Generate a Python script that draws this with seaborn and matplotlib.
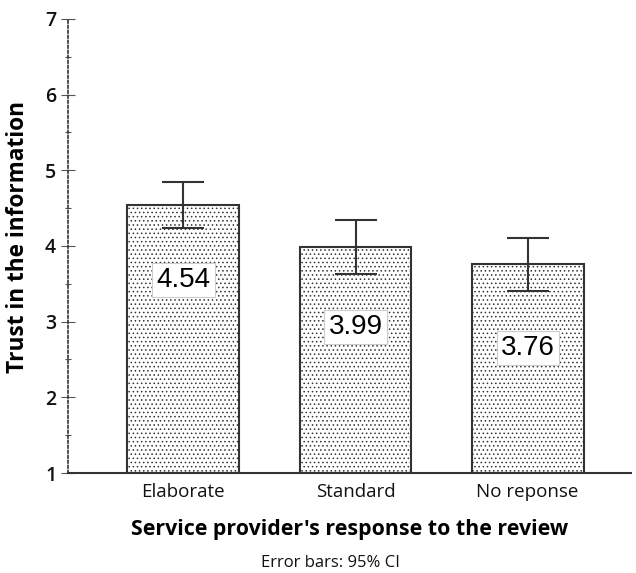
import numpy as np
import pandas as pd
import matplotlib
matplotlib.use("Agg")
import matplotlib.pyplot as plt
import seaborn as sns

# ── data ─────────────────────────────────────────────
conditions = ["Elaborate", "Standard", "No reponse"]
means = [4.54, 3.99, 3.76]
ci_low = [4.24, 3.63, 3.41]
ci_high = [4.85, 4.34, 4.11]
label_y = [3.55, 2.93, 2.65]   # where the value boxes sit

df = pd.DataFrame({"condition": conditions, "trust": means})

# ── style ────────────────────────────────────────────
sns.set_style("white")
plt.rcParams["font.family"] = ["Open Sans", "DejaVu Sans"]
plt.rcParams["hatch.color"] = "#b0b0b0"
plt.rcParams["hatch.linewidth"] = 0.6

fig = plt.figure(figsize=(6.36, 5.73), dpi=100)
ax = fig.add_axes([0.107, 0.1745, 0.885, 0.7925])

sns.barplot(data=df, x="condition", y="trust", ax=ax, errorbar=None,
            color="white", edgecolor="#333333", linewidth=1.5, width=0.65)
for p in ax.patches:
    p.set_hatch("....")
    p.set_y(1)
    p.set_height(p.get_height() - 1)

x = np.arange(len(conditions))
m = np.array(means)
ax.errorbar(x, m, yerr=[m - np.array(ci_low), np.array(ci_high) - m],
            fmt="none", ecolor="#333333", elinewidth=1.5, capsize=15, capthick=1.5)

for xi, v, ly in zip(x, means, label_y):
    ax.text(xi, ly, f"{v:.2f}", ha="center", va="center", fontsize=20,
            color="black", family=["Liberation Sans", "DejaVu Sans"],
            bbox=dict(boxstyle="square,pad=0.15", facecolor="white",
                      edgecolor="#cccccc", linewidth=0.8))

ax.set_ylim(1, 7)
ax.set_xlim(-0.67, 2.6)
ax.set_yticks(range(1, 8))
ax.set_yticks(np.arange(1.5, 7, 1), minor=True)
ax.tick_params(axis="y", which="major", direction="inout", length=10, width=0.8,
               color="#555555", labelcolor="#111111", labelsize=14, left=True)
ax.tick_params(axis="y", which="minor", direction="inout", length=5, width=0.8,
               color="#555555", left=True)
ax.tick_params(axis="x", length=0, labelsize=13.5, labelcolor="#111111", pad=7)
for t in ax.get_yticklabels():
    t.set_fontweight("semibold")

for s in ["top", "right"]:
    ax.spines[s].set_visible(False)
ax.spines["left"].set_linestyle((0, (1.5, 1.5)))
ax.spines["left"].set_color("#333333")
ax.spines["left"].set_linewidth(1.2)
ax.spines["bottom"].set_color("#333333")
ax.spines["bottom"].set_linewidth(1.5)

ax.set_xlabel("Service provider's response to the review", fontsize=15.4,
              fontweight="bold", labelpad=13, color="black")
ax.set_ylabel("Trust in the information", fontsize=16.3, fontweight="bold",
              color="black")
ax.yaxis.set_label_coords(-0.068, 0.52)

fig.text(0.519, 0.0175, "Error bars: 95% CI", ha="center", va="center",
         fontsize=12, color="#111111")

fig.savefig("out.png", dpi=100)
